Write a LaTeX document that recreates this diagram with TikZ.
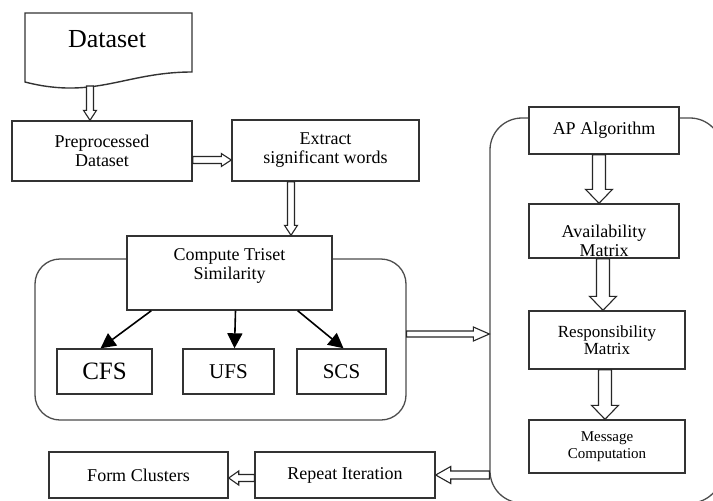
\documentclass[tikz,border=0pt]{standalone}
\usepackage{fontspec}
\IfFontExistsTF{LiberationSerif-Regular.ttf}
  {\newfontfamily\tms{LiberationSerif-Regular.ttf}}
  {\newcommand\tms{\rmfamily}}
\usetikzlibrary{arrows.meta,calc}
\tikzset{
  box/.style={draw=black!80, line width=1.4pt, fill=white, inner sep=0pt, align=center},
  con/.style={draw=black!70, line width=1.3pt, inner sep=0pt, rounded corners=#1},
  lbl/.style={inner sep=0pt, align=center},
  harr/.style={draw=black!85, line width=1.1pt, fill=white, line join=miter},
  tri/.style={draw=black, line width=1.6pt, -{Triangle[length=15pt,width=15pt]}},
  fA/.style={font=\tms\fontsize{18}{19}\selectfont},
  fB/.style={font=\tms\fontsize{15}{17}\selectfont},
}
% hollow arrows: #1 from, #2 to, #3 half shaft, #4 half head, #5 head length
\newcommand\hdn[5]{\path[harr] let \p1=#1, \p2=#2 in
  (\x1-#3,\y1) -- (\x1-#3,\y2+#5) -- (\x1-#4,\y2+#5) -- (\x1,\y2) --
  (\x1+#4,\y2+#5) -- (\x1+#3,\y2+#5) -- (\x1+#3,\y1) -- cycle;}
\newcommand\hrt[5]{\path[harr] let \p1=#1, \p2=#2 in
  (\x1,\y1-#3) -- (\x2-#5,\y1-#3) -- (\x2-#5,\y1-#4) -- (\x2,\y1) --
  (\x2-#5,\y1+#4) -- (\x2-#5,\y1+#3) -- (\x1,\y1+#3) -- cycle;}
\newcommand\hlt[5]{\path[harr] let \p1=#1, \p2=#2 in
  (\x1,\y1-#3) -- (\x2+#5,\y1-#3) -- (\x2+#5,\y1-#4) -- (\x2,\y1) --
  (\x2+#5,\y1+#4) -- (\x2+#5,\y1+#3) -- (\x1,\y1+#3) -- cycle;}
\begin{document}
\begin{tikzpicture}[x=1pt,y=-1pt]
\useasboundingbox (0,0) rectangle (713,501);
\clip (0,0) rectangle (713,501);
\fill[white] (0,0) rectangle (713,501);

% Dataset document shape
\draw[draw=black!80, line width=1.4pt, fill=white]
  (25,13) -- (192,13) -- (192,72) .. controls (125,72) and (95,100) .. (25,82) -- cycle;
\node[lbl, font=\tms\fontsize{26}{28}\selectfont] (ds) at (107,39) {Dataset};
\coordinate (dsb) at (90,86);

% containers
\node[con=25pt, minimum width=371pt, minimum height=161pt] (lcon) at (220.5,339.5) {};
\node[con=32pt, minimum width=232pt, minimum height=385pt] (rcon) at (606,310.5) {};

% left column boxes
\node[box, fA, minimum width=180pt, minimum height=60pt] (pre) at (102,151) {Preprocessed\\Dataset};
\node[box, fA, minimum width=187pt, minimum height=61pt] (ext) at (325.5,150.5) {Extract\\significant words};
\node[box, minimum width=205pt, minimum height=74pt] (cts) at (229.5,273) {};
\node[lbl, fA] (ctsl) at (229.5,266) {Compute Triset\\Similarity};

\node[box, font=\tms\fontsize{25}{27}\selectfont, minimum width=95pt, minimum height=45pt] (cfs) at (104.5,371.5) {CFS};
\node[box, font=\tms\fontsize{21}{23}\selectfont, minimum width=91pt, minimum height=45pt] (ufs) at (228.5,371.5) {UFS};
\node[box, font=\tms\fontsize{21}{23}\selectfont, minimum width=89pt, minimum height=45pt] (scs) at (341.5,371.5) {SCS};

% right column boxes
\node[box, fA, minimum width=150pt, minimum height=47pt] (ap) at (604,130.5) {AP Algorithm};
\node[box, minimum width=150pt, minimum height=54pt] (av) at (604,231) {};
\node[lbl, fA] (avl) at (604,241) {Availability\\Matrix};
\node[box, font=\tms\fontsize{17}{17}\selectfont, minimum width=156pt, minimum height=58pt] (rs) at (607,340) {Responsibility\\Matrix};
\node[box, fB, minimum width=156pt, minimum height=53pt] (ms) at (607,446.5) {Message\\Computation};

% bottom row
\node[box, fA, minimum width=179pt, minimum height=46pt] (form) at (138.5,475) {Form Clusters};
\node[box, fA, minimum width=180pt, minimum height=46pt] (rep) at (345,475) {Repeat Iteration};

% solid arrows
\draw[tri] ([xshift=25pt]cts.south west) -- ([xshift=-4pt]cfs.north);
\draw[tri] ([xshift=6pt]cts.south) -- ([xshift=6pt]ufs.north);
\draw[tri] ([xshift=-35pt]cts.south east) -- ([xshift=2pt]scs.north);

% hollow arrows
\hdn{(dsb)}{(dsb |- pre.north)}{3.5pt}{6.5pt}{10pt}
\hrt{([yshift=-9pt]pre.east)}{(ext.west)}{3.5pt}{6.5pt}{10pt}
\hdn{([xshift=-34.5pt]ext.south)}{(cts.north)}{3.5pt}{6.5pt}{10pt}
\hrt{([yshift=5.5pt]lcon.east)}{(rcon.west)}{3pt}{7pt}{16pt}
\hdn{([xshift=-5pt]ap.south)}{(av.north)}{6.5pt}{13.5pt}{14pt}
\hdn{([xshift=-1pt]av.south)}{(rs.north)}{6.5pt}{13.5pt}{14pt}
\hdn{([xshift=-2pt]rs.south)}{(ms.north)}{6.5pt}{13.5pt}{14pt}
\hlt{(rcon.west |- rep.east)}{(rep.east)}{4pt}{8.5pt}{15pt}
\hlt{([yshift=-3pt]rep.west)}{(form.east)}{3.5pt}{7pt}{10pt}
\end{tikzpicture}
\end{document}
